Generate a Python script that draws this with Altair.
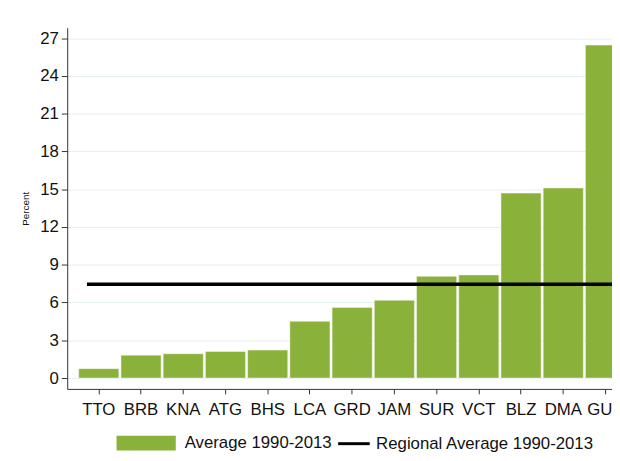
import altair as alt
import pandas as pd

countries = ["TTO", "BRB", "KNA", "ATG", "BHS", "LCA", "GRD", "JAM", "SUR", "VCT", "BLZ", "DMA", "GUY"]
values = [0.75, 1.82, 1.93, 2.11, 2.22, 4.51, 5.61, 6.18, 8.08, 8.19, 14.69, 15.10, 26.45]
regional_avg = 7.45
y_ticks = [0, 3, 6, 9, 12, 15, 18, 21, 24, 27]
bar_label = "Average 1990-2013"
line_label = "Regional Average 1990-2013"

bars_df = pd.DataFrame({"country": countries, "value": values, "series": bar_label})
line_df = pd.DataFrame({"value": [regional_avg], "series": [line_label]})

FONT = "Liberation Sans"
GREEN = "#8ab23a"
TEXT = "#111111"

x_scale = alt.Scale(domain=countries, range=[0, 577.4], paddingInner=0.05, paddingOuter=0.273)
y_scale = alt.Scale(domain=[-0.86, 27.83], nice=False, zero=False)

bars = alt.Chart(bars_df).mark_bar(stroke="#f4f8ee", strokeWidth=0.5).encode(
    x=alt.X("country:N", sort=countries, scale=x_scale,
            axis=alt.Axis(title=None, labelAngle=0, labelFontSize=17, labelFont=FONT,
                          labelColor=TEXT, tickSize=5, tickColor="#333", domainColor="#333",
                          labelPadding=8, grid=False, labelOverlap=False)),
    y=alt.Y("value:Q", scale=y_scale,
            axis=alt.Axis(title="Percent", titleFontSize=10, titleFontWeight="normal", titleFont=FONT,
                          titleColor=TEXT, titlePadding=9, values=y_ticks, labelFontSize=17,
                          labelFont=FONT, labelColor=TEXT, tickSize=6, tickColor="#333",
                          domainColor="#333", labelPadding=3, grid=True, gridColor="#e4eef1",
                          gridWidth=1)),
    y2=alt.datum(0),
    fill=alt.Fill("series:N", scale=alt.Scale(domain=[bar_label], range=[GREEN]),
                  legend=alt.Legend(title=None, orient="none", legendX=50, legendY=391,
                                    symbolType="M-1,-0.25H1V0.25H-1Z", symbolSize=3600,
                                    symbolStrokeWidth=0, labelFontSize=17, labelFont=FONT,
                                    labelColor=TEXT, labelOffset=9, labelLimit=0, padding=0)),
)

rule = alt.Chart(line_df).mark_rule(strokeWidth=3.5).encode(
    y=alt.Y("value:Q", scale=y_scale),
    x=alt.value(20),
    x2=alt.value(577),
    stroke=alt.Stroke("series:N", scale=alt.Scale(domain=[line_label], range=["black"]),
                      legend=alt.Legend(title=None, orient="none", legendX=273, legendY=404,
                                        symbolType="stroke", symbolSize=1024, symbolStrokeWidth=3,
                                        labelFontSize=17, labelFont=FONT, labelColor=TEXT,
                                        labelOffset=5, labelLimit=0, padding=0)),
)

chart = alt.layer(bars, rule).properties(
    width=552, height=366,
    autosize=alt.AutoSizeParams(type="none"),
    padding={"left": 60, "top": 17, "right": 0, "bottom": 62},
    background="white",
).configure_view(stroke=None).configure_axis(domainWidth=1, tickWidth=1)

chart.save("out.html", embed_options={"renderer": "svg", "actions": False})
